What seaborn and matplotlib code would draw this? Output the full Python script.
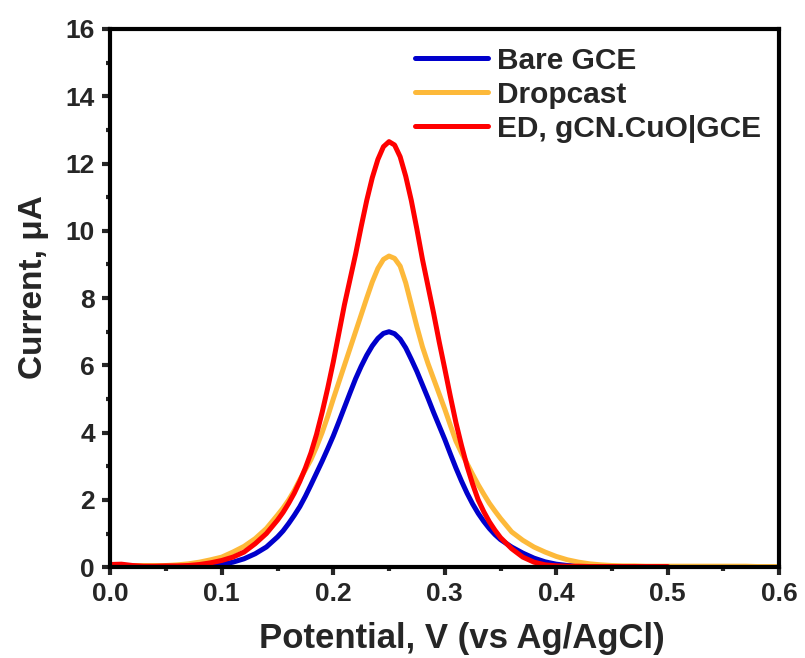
import numpy as np
import pandas as pd
import matplotlib
matplotlib.use('Agg')
import matplotlib.pyplot as plt
import seaborn as sns
from matplotlib.ticker import MultipleLocator

# potential (V) grid: coarse on the tails, finer around the peak
potential = np.round(np.concatenate([
    np.arange(0.00, 0.145, 0.01),
    np.arange(0.15, 0.3525, 0.005),
    np.arange(0.36, 0.605, 0.01),
]), 3)

bare_gce = [0.02, 0.02, 0.02, 0.02, 0.02, 0.02, 0.02, 0.03, 0.03, 0.05,
            0.08, 0.15, 0.25, 0.40, 0.60,
            0.90, 1.08, 1.30, 1.54, 1.80, 2.11, 2.45, 2.80, 3.15, 3.52,
            3.90, 4.32, 4.75, 5.18, 5.60, 5.97, 6.30, 6.58, 6.80, 6.95,
            7.00, 6.94, 6.78, 6.52, 6.18, 5.82, 5.42, 5.02, 4.60, 4.20,
            3.80, 3.37, 2.95, 2.56, 2.20, 1.88, 1.60, 1.36, 1.15, 0.97,
            0.82,
            0.60, 0.42, 0.27, 0.16, 0.09, 0.05, 0.03, 0.02, 0.02, 0.02,
            0.01, 0.01, 0.01, 0.01, 0.01]

dropcast = [0.05, 0.05, 0.05, 0.05, 0.05, 0.05, 0.07, 0.10, 0.15, 0.22,
            0.30, 0.45, 0.62, 0.85, 1.15,
            1.55, 1.76, 2.00, 2.28, 2.60, 2.90, 3.20, 3.58, 4.00, 4.48,
            5.00, 5.50, 6.00, 6.50, 7.00, 7.50, 8.00, 8.48, 8.88, 9.15,
            9.25, 9.18, 8.95, 8.45, 7.80, 7.15, 6.55, 6.05, 5.60, 5.15,
            4.70, 4.22, 3.75, 3.40, 3.08, 2.76, 2.45, 2.17, 1.90, 1.67,
            1.45,
            1.05, 0.80, 0.60, 0.45, 0.32, 0.22, 0.15, 0.10, 0.07, 0.05,
            0.04, 0.04, 0.03, 0.03, 0.03, 0.03, 0.03, 0.03, 0.03, 0.03,
            0.03, 0.03, 0.02, 0.02, 0.02]

ed_gcn_cuo = [0.08, 0.09, 0.05, 0.03, 0.03, 0.04, 0.04, 0.05, 0.08, 0.13,
              0.20, 0.30, 0.45, 0.70, 1.00,
              1.40, 1.63, 1.90, 2.20, 2.55, 2.95, 3.40, 3.95, 4.60, 5.32,
              6.10, 6.95, 7.80, 8.55, 9.30, 10.12, 10.90, 11.58, 12.12, 12.50,
              12.65, 12.55, 12.20, 11.62, 10.90, 10.05, 9.15, 8.35, 7.55, 6.70,
              5.90, 5.08, 4.30, 3.62, 3.00, 2.47, 2.00, 1.65, 1.35, 1.10,
              0.88,
              0.55, 0.30, 0.15, 0.07, 0.04, 0.03, 0.03, 0.02, 0.02, 0.02,
              0.02, 0.02, 0.02, 0.02, 0.02]

labels = ['Bare GCE', 'Dropcast', 'ED, gCN.CuO|GCE']
colors = ['#0000CC', '#FDB93A', '#FF0000']

sns.set_style('white')
plt.rcParams['font.family'] = ['Liberation Sans', 'DejaVu Sans']
plt.rcParams['font.weight'] = 'bold'

fig = plt.figure(figsize=(8.05, 6.58), dpi=100)
ax = fig.add_axes([0.137, 0.138, 0.831, 0.818])

series = [bare_gce, dropcast, ed_gcn_cuo]
for ys, lab, col in zip(series, labels, colors):
    d = pd.DataFrame({'x': potential[:len(ys)], 'y': ys})
    sns.lineplot(data=d, x='x', y='y', ax=ax, color=col, linewidth=3.6,
                 label=lab, solid_capstyle='round', solid_joinstyle='round')

ax.set_xlim(0, 0.6)
ax.set_ylim(0, 16)
ax.xaxis.set_major_locator(MultipleLocator(0.1))
ax.xaxis.set_minor_locator(MultipleLocator(0.05))
ax.yaxis.set_major_locator(MultipleLocator(2))
ax.yaxis.set_minor_locator(MultipleLocator(1))
ax.xaxis.set_major_formatter(plt.FuncFormatter(lambda v, p: f'{v:.1f}'))

for sp in ax.spines.values():
    sp.set_linewidth(3)
    sp.set_color('black')

ax.tick_params(which='major', direction='out', length=6, width=3,
               labelsize=19, bottom=True, left=True, top=False, right=False, pad=5)
ax.tick_params(which='minor', direction='out', length=3, width=3,
               bottom=True, left=True, top=False, right=False)
for t in ax.get_xticklabels() + ax.get_yticklabels():
    t.set_fontweight('bold')

ax.set_xlabel('Potential, V (vs Ag/AgCl)', fontsize=25, fontweight='bold', labelpad=11)
ax.set_ylabel('Current, \u03bcA', fontsize=24, fontweight='bold', labelpad=12)
ax.xaxis.label.set_x(0.525)
ax.yaxis.label.set_y(0.52)

leg = ax.legend(loc='upper right', frameon=False, fontsize=21.5, handlelength=2.45,
                handletextpad=0.3, labelspacing=0.2, borderaxespad=0.2,
                bbox_to_anchor=(1.0, 1.0))
for t in leg.get_texts():
    t.set_fontweight('bold')

fig.savefig('out.png', dpi=100)
